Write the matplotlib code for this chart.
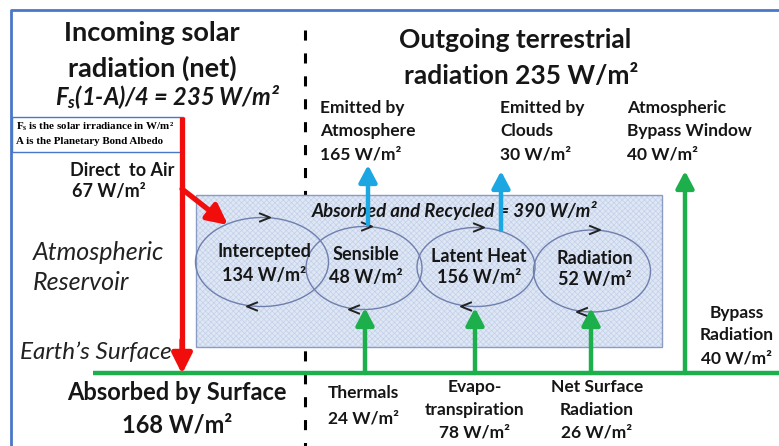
import matplotlib
matplotlib.use('Agg')
import matplotlib.pyplot as plt
from matplotlib.patches import Ellipse, Rectangle

# values (W/m2)
incoming_net = 235
outgoing_total = 235
direct_to_air = 67
absorbed_surface = 168
recycled_total = 390
bypass_surface = 40

reservoir_labels = ['Intercepted', 'Sensible', 'Latent Heat', 'Radiation']
reservoir_values = [134, 48, 156, 52]

outgoing_labels = [['Emitted by', 'Atmosphere'], ['Emitted by', 'Clouds'], ['Atmospheric', 'Bypass Window']]
outgoing_values = [165, 30, 40]

surface_labels = [['Thermals'], ['Evapo-', 'transpiration'], ['Net Surface', 'Radiation']]
surface_values = [24, 78, 26]

# layout (pixel coords)
ell_cx = [262, 364, 476, 592]
ell_cy = [262, 268, 267, 271]
ell_w = [133, 116, 118, 117]
ell_h = [89, 83, 79, 82]
ell_text_x = [264, 366, 479, 595]
ell_text_y = [(252, 276), (255, 278), (257, 278), (258, 280)]

plt.rcParams['font.family'] = ['Lato', 'DejaVu Sans']
plt.rcParams['mathtext.fontset'] = 'custom'
plt.rcParams['mathtext.it'] = 'Lato:italic:bold'
plt.rcParams['mathtext.rm'] = 'Lato:bold'
plt.rcParams['mathtext.bf'] = 'Liberation Serif:bold'
plt.rcParams['hatch.linewidth'] = 0.5

RED = '#f20d0d'
GREEN = '#1caf4c'
BLUE = '#1da7e2'
FRAME = '#4a78c8'
INK = '#161616'
W = ' W/m\u00b2'

fig = plt.figure(figsize=(7.79, 4.46), dpi=100)
ax = fig.add_axes([0, 0, 1, 1])
ax.set_xlim(0, 779)
ax.set_ylim(446, 0)
ax.axis('off')

# frame
ax.plot([11, 11, 779], [446, 10, 10], color=FRAME, lw=2, solid_capstyle='butt')

# dashed divider
ax.plot([305, 305], [30, 446], color='k', lw=2.2, dashes=(3.3, 4.2), zorder=1)

# reservoir box
ax.add_patch(Rectangle((196, 195), 466, 152, facecolor='#dfe7f4', edgecolor='#c3d0ea',
                       hatch='xxxxxx', lw=0, zorder=2))
ax.add_patch(Rectangle((196, 195), 466, 152, fill=False, edgecolor='#8a9cc6', lw=1, zorder=3))

# ellipses + circulation chevrons
for i in range(len(reservoir_labels)):
    ax.add_patch(Ellipse((ell_cx[i], ell_cy[i]), ell_w[i], ell_h[i], fill=False,
                         edgecolor='#6f7fae', lw=1, zorder=4))
    tx = ell_cx[i] + 3
    ty = ell_cy[i] - ell_h[i] / 2
    ax.plot([tx - 5, tx + 5, tx - 5], [ty - 4, ty, ty + 4], color='#222222', lw=1.4, zorder=5)
    bx = ell_cx[i] - 10
    by = ell_cy[i] + ell_h[i] / 2
    ax.plot([bx + 5, bx - 5, bx + 5], [by - 4, by, by + 4], color='#222222', lw=1.4, zorder=5)
    ax.text(ell_text_x[i], ell_text_y[i][0], reservoir_labels[i], ha='center', va='center',
            fontsize=13, fontweight='bold', color=INK, zorder=6)
    ax.text(ell_text_x[i], ell_text_y[i][1], f'{reservoir_values[i]}' + W, ha='center', va='center',
            fontsize=13, fontweight='bold', color=INK, zorder=6)


def arrow(x0, y0, x1, y1, color, lw, hw, hl, ms=12):
    ax.annotate('', xy=(x1, y1), xytext=(x0, y0),
                arrowprops=dict(arrowstyle=f'-|>,head_width={hw},head_length={hl}',
                                color=color, lw=lw, shrinkA=0, shrinkB=0, mutation_scale=ms),
                zorder=7)


# surface line
ax.plot([93, 779], [373, 373], color=GREEN, lw=3.2, solid_capstyle='butt', zorder=6)

# red incoming arrows
ax.plot([182, 182], [117, 360], color=RED, lw=3.8, solid_capstyle='butt', zorder=7)
arrow(182, 340, 182, 374, RED, 3.8, 0.5, 1.0)
arrow(182, 189, 228, 225, RED, 3.8, 0.5, 1.0)

# blue outgoing arrows
arrow(368, 224, 368, 165, BLUE, 3.2, 0.45, 0.85)
arrow(501, 230, 501, 171, BLUE, 3.2, 0.45, 0.85)

# green arrows
arrow(685, 373, 685, 171, GREEN, 3.2, 0.45, 0.85)
for x in [365, 475, 591]:
    arrow(x, 373, x, 308, GREEN, 3.2, 0.45, 0.85)

# titles
ax.text(152, 33, 'Incoming solar', ha='center', va='center', fontsize=19.5, fontweight='bold', color=INK)
ax.text(152, 68, 'radiation (net)', ha='center', va='center', fontsize=19.5, fontweight='bold', color=INK)
ax.text(168, 97, '$F_s$(1-A)/4 = ' + f'{incoming_net}' + W, ha='center', va='center', fontsize=17,
        fontweight='bold', fontstyle='italic', color=INK)
ax.text(515, 40, 'Outgoing terrestrial', ha='center', va='center', fontsize=19, fontweight='bold', color=INK)
ax.text(521, 76, f'radiation {outgoing_total}' + W, ha='center', va='center', fontsize=19,
        fontweight='bold', color=INK)

# note box
ax.add_patch(Rectangle((12, 117), 171, 35, facecolor='white', edgecolor=FRAME, lw=1, zorder=3))
ax.text(16, 126.5, r'$\mathbf{F_s}$ is the solar irradiance in W/m' + '\u00b2',
        ha='left', va='center', fontsize=7.9, fontweight='bold', family='Liberation Serif', zorder=4)
ax.text(16, 141, 'A is the Planetary Bond Albedo', ha='left', va='center', fontsize=7.9,
        fontweight='bold', family='Liberation Serif', zorder=4)

# left labels
ax.text(122, 170, 'Direct  to Air', ha='center', va='center', fontsize=13, fontweight='bold', color=INK)
ax.text(72, 191, f'{direct_to_air}' + W, ha='left', va='center', fontsize=13, fontweight='bold', color=INK)
ax.text(33, 252, 'Atmospheric', ha='left', va='center', fontsize=18, fontstyle='italic', color='#222222')
ax.text(33, 283, 'Reservoir', ha='left', va='center', fontsize=18, fontstyle='italic', color='#222222')
ax.text(20, 353, 'Earth\u2019s Surface', ha='left', va='center', fontsize=17.5, fontstyle='italic', color='#222222')
ax.text(177, 393, 'Absorbed by Surface', ha='center', va='center', fontsize=17, fontweight='bold', color=INK)
ax.text(177, 425, f'{absorbed_surface}' + W, ha='center', va='center', fontsize=17, fontweight='bold', color=INK)

# recycled label
ax.text(455, 210, f'Absorbed and Recycled = {recycled_total}' + W, ha='center', va='center', fontsize=13.4,
        fontweight='bold', fontstyle='italic', color=INK, zorder=6)

# outgoing labels
for i, x in enumerate([320, 500, 627]):
    lines = outgoing_labels[i] + [f'{outgoing_values[i]}' + W]
    for j, ln in enumerate(lines):
        ax.text(x, 108 + 23 * j, ln, ha='left', va='center', fontsize=12.5, fontweight='bold', color=INK)

# surface labels
ax.text(328, 393, surface_labels[0][0], ha='left', va='center', fontsize=12.5, fontweight='bold', color=INK)
ax.text(328, 418, f'{surface_values[0]}' + W, ha='left', va='center', fontsize=12.5, fontweight='bold', color=INK)
for i, x in [(1, 475), (2, 597)]:
    lines = surface_labels[i] + [f'{surface_values[i]}' + W]
    for j, ln in enumerate(lines):
        ax.text(x, 387 + 23 * j, ln, ha='center', va='center', fontsize=12.5, fontweight='bold', color=INK)

for j, ln in enumerate(['Bypass', 'Radiation', f'{bypass_surface}' + W]):
    ax.text(737, 313 + 22.5 * j, ln, ha='center', va='center', fontsize=12.5, fontweight='bold', color=INK)

fig.savefig('out.png', dpi=100)
